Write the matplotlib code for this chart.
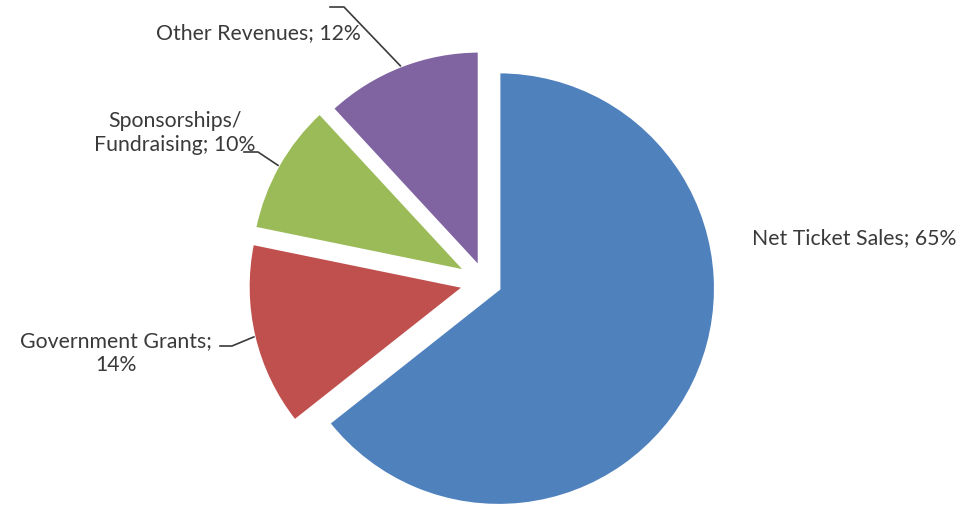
import numpy as np
import matplotlib
matplotlib.use("Agg")
import matplotlib.pyplot as plt

labels = ["Net Ticket Sales", "Government Grants", "Sponsorships/\nFundraising", "Other Revenues"]
values = [65, 14, 10, 12]
colors = ["#4F81BD", "#C0504D", "#9BBB59", "#8064A2"]

W, H = 974, 505
fig = plt.figure(figsize=(W / 100, H / 100), dpi=100)
ax = fig.add_axes([0, 0, 1, 1])

R = 217
C = (485, H - 282)
explode = [0.07 * R, 0.095 * R, 0.095 * R, 0.07 * R]
wedges, _ = ax.pie(values, colors=colors, explode=explode, startangle=90,
                   counterclock=False, radius=R, center=C, frame=True,
                   wedgeprops=dict(edgecolor="white", linewidth=2.5))
ax.set_xlim(0, W)
ax.set_ylim(0, H)
ax.axis("off")

font = dict(family=["Lato", "DejaVu Sans"], fontsize=15.3, color="#3a3a3a")

def arc_mid(w):
    ang = np.deg2rad((w.theta1 + w.theta2) / 2)
    cx, cy = w.center
    return cx + w.r * np.cos(ang), cy + w.r * np.sin(ang)

# Net Ticket Sales
ax.text(752, H - 238, f"{labels[0]}; {values[0]}%", ha="left", va="center", **font)

# Government Grants
ax.text(116, H - 353, f"Government Grants;\n{values[1]}%", ha="center", va="center",
        linespacing=1.25, **font)
mx, my = arc_mid(wedges[1])
ax.plot([220, 232, mx], [H - 346, H - 346, my], color="#3a3a3a", lw=1.2)

# Sponsorships
ax.text(175, H - 133, f"Sponsorships/\nFundraising; {values[2]}%", ha="center", va="center",
        linespacing=1.25, **font)
mx, my = arc_mid(wedges[2])
ax.plot([244, 258, mx], [H - 152, H - 152, my], color="#3a3a3a", lw=1.2)

# Other Revenues
ax.text(258, H - 33, f"{labels[3]}; {values[3]}%", ha="center", va="center", **font)
mx, my = arc_mid(wedges[3])
ax.plot([330, 344, mx], [H - 7, H - 7, my], color="#3a3a3a", lw=1.2)

fig.savefig("out.png", dpi=100)
